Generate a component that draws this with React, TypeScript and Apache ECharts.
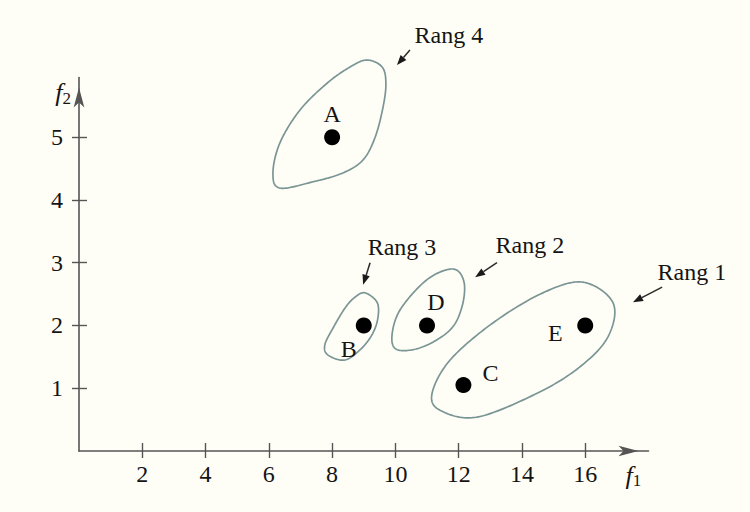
import React, { useEffect, useRef } from "react";
import * as echarts from "echarts";

// ---- data ----
const pointNames = ["A", "B", "C", "D", "E"];
const f1Values = [8, 9, 12.15, 11, 16];
const f2Values = [5, 2, 1.05, 2, 2];

const xTickValues = [2, 4, 6, 8, 10, 12, 14, 16];
const yTickValues = [1, 2, 3, 4, 5];

const rangNames = ["Rang 1", "Rang 2", "Rang 3", "Rang 4"];
const rang1Outline = [[15.93, 2.69], [16.88, 2.36], [16.72, 1.82], [15.83, 1.34], [14.48, 0.92], [12.58, 0.54], [11.41, 0.65], [11.16, 0.92], [11.73, 1.45], [13.08, 2.04], [14.66, 2.52]];
const rang2Outline = [[11.82, 2.9], [12.17, 2.69], [12.1, 2.29], [11.73, 1.93], [10.87, 1.66], [10.08, 1.61], [9.89, 1.82], [10.15, 2.25], [11.0, 2.73]];
const rang3Outline = [[9.04, 2.52], [9.42, 2.37], [9.45, 2.13], [9.29, 1.88], [8.94, 1.64], [8.41, 1.45], [7.87, 1.53], [7.77, 1.69], [8.03, 1.96], [8.41, 2.28], [8.72, 2.45]];
const rang4Outline = [[9.1, 6.23], [9.58, 6.12], [9.7, 5.86], [9.61, 5.48], [9.36, 5.0], [8.98, 4.64], [8.34, 4.43], [7.4, 4.29], [6.35, 4.19], [6.13, 4.43], [6.35, 4.91], [6.98, 5.43], [7.84, 5.86], [8.57, 6.12]];
const rangLabelPos = [[19.37, 2.85], [14.25, 3.28], [10.21, 3.25], [11.69, 6.63]];
const rangArrowFrom = [[18.43, 2.61], [13.21, 3.0], [9.2, 3.0], [10.46, 6.39]];
const rangArrowTo = [[17.51, 2.37], [12.52, 2.77], [8.98, 2.65], [10.05, 6.15]];

// ---- styles ----
const pointLabelOffsets = [[0, -23], [-15, 24], [27, -12], [9, -23], [-30, 8]];
const SERIF = "'Liberation Serif', 'DejaVu Serif', serif";
const TEXT = "#141414";
const AXIS = "#555555";
const OUTLINE = "#7a9595";
const BG = "#fffef6";

const outlines = [rang1Outline, rang2Outline, rang3Outline, rang4Outline];

// closed Catmull-Rom curve through pixel points, sampled as a polygon
function closedSpline(pts: number[][], steps = 20): number[][] {
  const n = pts.length;
  const out: number[][] = [];
  for (let i = 0; i < n; i++) {
    const p0 = pts[(i - 1 + n) % n];
    const p1 = pts[i];
    const p2 = pts[(i + 1) % n];
    const p3 = pts[(i + 2) % n];
    const c1 = [p1[0] + (p2[0] - p0[0]) / 6, p1[1] + (p2[1] - p0[1]) / 6];
    const c2 = [p2[0] - (p3[0] - p1[0]) / 6, p2[1] - (p3[1] - p1[1]) / 6];
    for (let s = 0; s < steps; s++) {
      const t = s / steps;
      const mt = 1 - t;
      const a = mt * mt * mt;
      const b = 3 * mt * mt * t;
      const c = 3 * mt * t * t;
      const d = t * t * t;
      out.push([
        a * p1[0] + b * c1[0] + c * c2[0] + d * p2[0],
        a * p1[1] + b * c1[1] + c * c2[1] + d * p2[1],
      ]);
    }
  }
  return out;
}

export default function App() {
  const ref = useRef<HTMLDivElement>(null);
  useEffect(() => {
    if (!ref.current) return;
    const chart = echarts.init(ref.current, null, { renderer: "svg" });
    const axisNameRich = {
      f: { fontFamily: SERIF, fontStyle: "italic", fontSize: 26, color: TEXT, lineHeight: 28 },
      s: { fontFamily: SERIF, fontSize: 17, color: TEXT, lineHeight: 16, verticalAlign: "bottom" },
    };
    const baseX = {
      type: "value",
      min: 0,
      max: 18,
      position: "bottom",
      splitLine: { show: false },
    };
    const baseY = {
      type: "value",
      min: 0,
      max: 5.95,
      position: "left",
      splitLine: { show: false },
    };
    chart.setOption({
      animation: false,
      backgroundColor: BG,
      grid: { left: 79, right: 101.5, top: 77.6, bottom: 61, containLabel: false },
      xAxis: [
        {
          ...baseX,
          name: "{f|f}{s|1}",
          nameLocation: "end",
          nameGap: -23,
          nameTextStyle: { align: "left", verticalAlign: "top", padding: [10, 0, 0, 0], rich: axisNameRich },
          axisLine: { show: true, lineStyle: { color: AXIS, width: 1.6 }, symbol: ["none", "arrow"], symbolSize: [8, 20], symbolOffset: [0, -10] },
          axisTick: { show: true, inside: true, length: 8, customValues: xTickValues, lineStyle: { color: AXIS, width: 1.4 } },
          axisLabel: { show: true, customValues: xTickValues, margin: 11, fontFamily: SERIF, fontSize: 24, color: TEXT },
        },
        {
          ...baseX,
          axisLine: { show: false },
          axisTick: { show: true, inside: false, length: 7, customValues: xTickValues, lineStyle: { color: AXIS, width: 1.4 } },
          axisLabel: { show: false },
        },
      ],
      yAxis: [
        {
          ...baseY,
          name: "{f|f}{s|2}",
          nameLocation: "end",
          nameGap: -15,
          nameTextStyle: { align: "right", verticalAlign: "middle", padding: [0, 8, 0, 0], rich: axisNameRich },
          axisLine: { show: true, lineStyle: { color: AXIS, width: 1.6 }, symbol: ["none", "arrow"], symbolSize: [8, 20], symbolOffset: [0, -10] },
          axisTick: { show: true, inside: true, length: 8, customValues: yTickValues, lineStyle: { color: AXIS, width: 1.4 } },
          axisLabel: { show: true, customValues: yTickValues, margin: 16, fontFamily: SERIF, fontSize: 24, color: TEXT },
        },
        {
          ...baseY,
          axisLine: { show: false },
          axisTick: { show: true, inside: false, length: 7, customValues: yTickValues, lineStyle: { color: AXIS, width: 1.4 } },
          axisLabel: { show: false },
        },
      ],
      series: [
        {
          type: "custom",
          name: "outlines",
          xAxisIndex: 0,
          yAxisIndex: 0,
          clip: false,
          silent: true,
          data: rangNames.map((n, i) => ({ name: n, value: [outlines[i][0][0], outlines[i][0][1]] })),
          renderItem: (params: any, api: any) => {
            const pts = outlines[params.dataIndex].map((p) => api.coord(p));
            return {
              type: "polygon",
              shape: { points: closedSpline(pts) },
              style: { fill: "none", stroke: OUTLINE, lineWidth: 1.7 },
            };
          },
        },
        {
          type: "custom",
          name: "annotations",
          xAxisIndex: 0,
          yAxisIndex: 0,
          clip: false,
          silent: true,
          data: rangNames.map((n, i) => ({ name: n, value: rangLabelPos[i] })),
          renderItem: (params: any, api: any) => {
            const i = params.dataIndex;
            const t = api.coord(rangLabelPos[i]);
            const a = api.coord(rangArrowFrom[i]);
            const b = api.coord(rangArrowTo[i]);
            const dx = b[0] - a[0];
            const dy = b[1] - a[1];
            const len = Math.sqrt(dx * dx + dy * dy) || 1;
            const ux = dx / len;
            const uy = dy / len;
            const hl = 10;
            const hw = 3.8;
            const base = [b[0] - ux * hl, b[1] - uy * hl];
            return {
              type: "group",
              children: [
                {
                  type: "text",
                  x: t[0],
                  y: t[1],
                  style: { text: rangNames[i], fontFamily: SERIF, fontSize: 24, fill: TEXT, align: "center", verticalAlign: "middle" },
                },
                {
                  type: "line",
                  shape: { x1: a[0], y1: a[1], x2: base[0], y2: base[1] },
                  style: { stroke: "#2a2a2a", lineWidth: 1.5 },
                },
                {
                  type: "polygon",
                  shape: {
                    points: [
                      [b[0], b[1]],
                      [base[0] - uy * hw, base[1] + ux * hw],
                      [base[0] + uy * hw, base[1] - ux * hw],
                    ],
                  },
                  style: { fill: "#1a1a1a", stroke: "none" },
                },
              ],
            };
          },
        },
        {
          type: "scatter",
          name: "points",
          xAxisIndex: 0,
          yAxisIndex: 0,
          symbol: "circle",
          symbolSize: 16,
          itemStyle: { color: "#000000", opacity: 1 },
          data: pointNames.map((n, i) => ({
            name: n,
            value: [f1Values[i], f2Values[i]],
            label: { offset: pointLabelOffsets[i] },
          })),
          label: {
            show: true,
            position: "inside",
            formatter: "{b}",
            fontFamily: SERIF,
            fontSize: 24,
            color: TEXT,
          },
        },
      ],
    });
    return () => chart.dispose();
  }, []);
  return (
    <div
      ref={ref}
      style={{ position: "fixed", left: 0, top: 0, width: 750, height: 512, background: BG }}
    />
  );
}
